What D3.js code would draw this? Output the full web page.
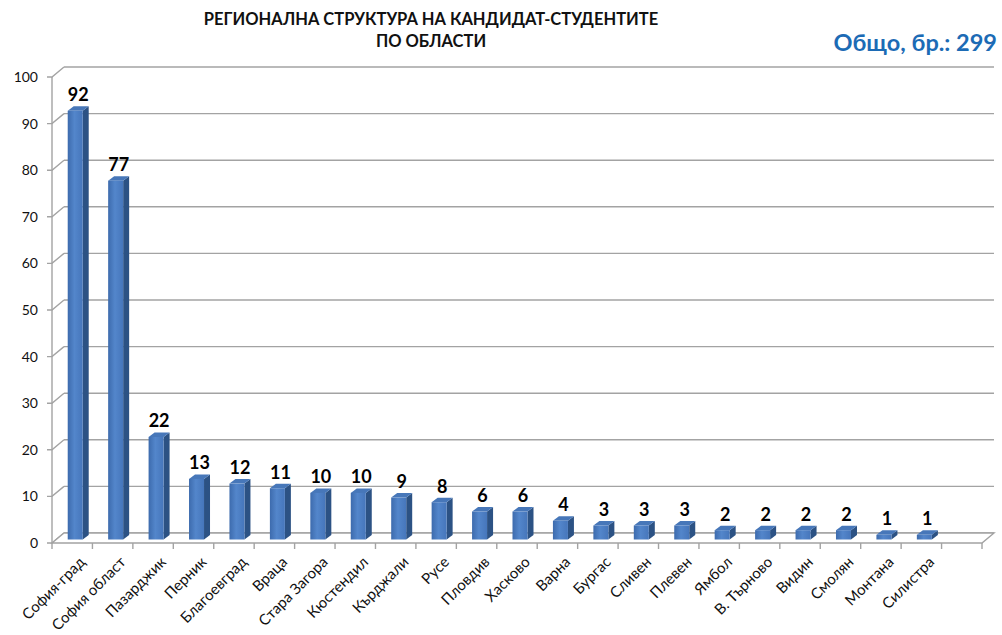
<html>
<head>
<meta charset="utf-8">
<style>
body { margin:0; background:#ffffff; }
svg { font-family: Lato, "Open Sans", sans-serif; }
</style>
<script src="https://d3js.org/d3.v7.min.js" charset="utf-8"></script>
</head>
<body>
<svg width="1002" height="635"></svg>
<script>

// data
var regions = ["София-град","София област","Пазарджик","Перник","Благоевград","Враца","Стара Загора","Кюстендил","Кърджали","Русе","Пловдив","Хасково","Варна","Бургас","Сливен","Плевен","Ямбол","В. Търново","Видин","Смолян","Монтана","Силистра"];
var counts = [92,77,22,13,12,11,10,10,9,8,6,6,4,3,3,3,2,2,2,2,1,1];
var yTicks = [0,10,20,30,40,50,60,70,80,90,100];
var titleLines = ["РЕГИОНАЛНА СТРУКТУРА НА КАНДИДАТ-СТУДЕНТИТЕ","ПО ОБЛАСТИ"];
var totalText = "Общо, бр.: 299";

var svg = d3.select("svg");
var slots = regions.length + 1; // one empty slot at the end of the axis
var slotW = (982-52)/slots;

var xScale = d3.scaleBand().domain(regions).range([52, 52+slotW*regions.length]).padding(0);
var yScale = d3.scaleLinear().domain([0,100]).range([543,77]);

var depth = {dx:12, dy:-10};   // floor/wall depth
var front = {dx:3, dy:-3.5};   // where the bar front face sits
var bdep = {dx:6, dy:-4.5};    // bar depth
var fw = 15;                   // bar front width
var grid = "#a3a3a3";
var xEnd = 982;

// gradient for bar front
var defs = svg.append("defs");
var grad = defs.append("linearGradient").attr("id","barFront").attr("x1","0").attr("x2","1").attr("y1","0").attr("y2","0");
grad.append("stop").attr("offset","0%").attr("stop-color","#3d6bad");
grad.append("stop").attr("offset","45%").attr("stop-color","#5386cb");
grad.append("stop").attr("offset","100%").attr("stop-color","#4676bb");

// titles
svg.selectAll(".title").data(titleLines).enter().append("text")
	.attr("class","title")
	.attr("x",431).attr("y",function(d,i){ return 25+i*22; })
	.attr("text-anchor","middle")
	.style("font-size","16.5px").style("font-weight","bold").attr("fill","#111111")
	.text(function(d){ return d; });
svg.append("text").text(totalText)
	.attr("x",997).attr("y",51).attr("text-anchor","end")
	.style("font-size","23.5px").style("font-weight","bold").attr("fill","#1c6bb5");

// back wall gridlines + side wall tick/diagonals
var g = svg.append("g");
g.selectAll(".bgrid").data(yTicks).enter().append("line")
	.attr("x1",52+depth.dx).attr("x2",xEnd+depth.dx)
	.attr("y1",function(d){ return yScale(d)+depth.dy; })
	.attr("y2",function(d){ return yScale(d)+depth.dy; })
	.attr("stroke",grid).attr("stroke-width",1.4);
g.selectAll(".sdiag").data(yTicks).enter().append("polyline")
	.attr("points",function(d){ var y=yScale(d); return [47,y,52,y,52+depth.dx,y+depth.dy].join(" "); })
	.attr("fill","none").attr("stroke",grid).attr("stroke-width",1.4);

// floor
g.append("polygon")
	.attr("points",[52,yScale(0), xEnd,yScale(0), xEnd+depth.dx,yScale(0)+depth.dy, 52+depth.dx,yScale(0)+depth.dy].join(" "))
	.attr("fill","#ffffff").attr("stroke",grid).attr("stroke-width",1.4);
// front value axis line
g.append("line").attr("x1",52).attr("x2",52).attr("y1",yScale(100)).attr("y2",yScale(0))
	.attr("stroke",grid).attr("stroke-width",1.4);

// category tick marks
var tickX = regions.map(function(d){ return xScale(d); }).concat([52+slotW*regions.length, xEnd]);
g.selectAll(".xtick").data(tickX).enter().append("line")
	.attr("x1",function(d){ return d; }).attr("x2",function(d){ return d; })
	.attr("y1",yScale(0)).attr("y2",yScale(0)+6)
	.attr("stroke",grid).attr("stroke-width",1.4);

// y labels
svg.selectAll(".ylab").data(yTicks).enter().append("text")
	.attr("x",38).attr("y",function(d){ return yScale(d); })
	.attr("dy","0.35em").attr("text-anchor","end")
	.style("font-size","14px").attr("fill","#111111")
	.text(function(d){ return d; });

// bars
var data = regions.map(function(r,i){ return {region:r, value:counts[i]}; });
function x0(d){ return xScale(d.region) + xScale.bandwidth()/2 - fw/2 + front.dx; }
function yb(){ return yScale(0) + front.dy; }
function yt(d){ return yScale(d.value) + front.dy; }

var bars = svg.selectAll(".bar").data(data).enter().append("g").attr("class","bar");
bars.append("polygon").attr("points",function(d){
	var x=x0(d)+fw, t=yt(d), b=yb();
	return [x,t, x+bdep.dx,t+bdep.dy, x+bdep.dx,b+bdep.dy, x,b].join(" ");
}).attr("fill","#2c5284");
bars.append("polygon").attr("points",function(d){
	var x=x0(d), t=yt(d);
	return [x,t, x+bdep.dx,t+bdep.dy, x+fw+bdep.dx,t+bdep.dy, x+fw,t].join(" ");
}).attr("fill","#4777b9");
bars.append("rect")
	.attr("x",x0).attr("y",yt)
	.attr("width",fw).attr("height",function(d){ return yb()-yt(d); })
	.attr("fill","url(#barFront)");

// value labels
bars.append("text")
	.attr("x",function(d){ return x0(d)+fw/2+bdep.dx/2; })
	.attr("y",function(d){ return yt(d)+bdep.dy-5; })
	.attr("text-anchor","middle")
	.style("font-size","18px").style("font-weight","bold").attr("fill","#000000")
	.text(function(d){ return d.value; });

// category labels
svg.selectAll(".xlab").data(regions).enter().append("text")
	.attr("transform",function(d){ return "translate("+(xScale(d)+xScale.bandwidth()/2+6)+",555)rotate(-45)"; })
	.attr("text-anchor","end").attr("dy","0.75em")
	.style("font-size","15px").attr("fill","#111111")
	.text(function(d){ return d; });

</script>
</body>
</html>
